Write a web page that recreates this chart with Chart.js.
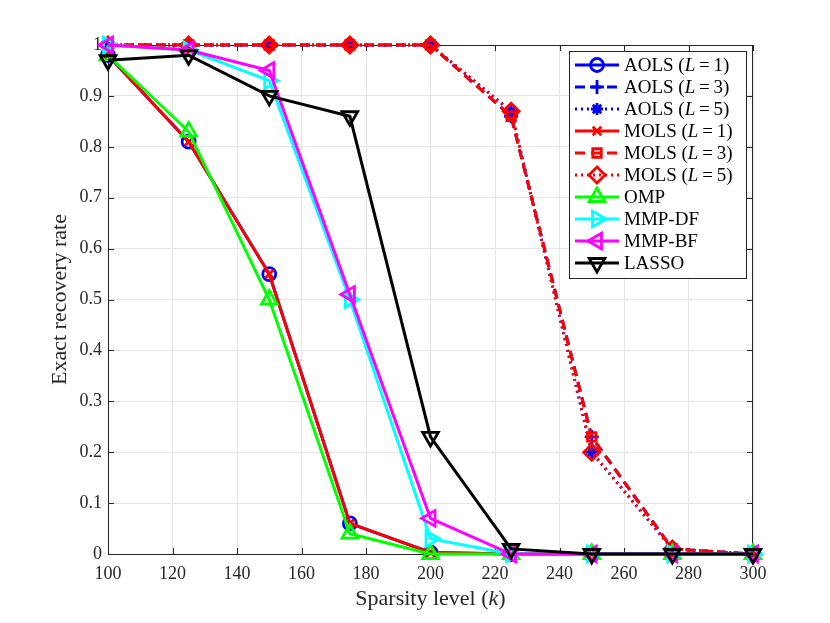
<!DOCTYPE html>
<html>
<head>
<meta charset="utf-8">
<script src="https://cdn.jsdelivr.net/npm/chart.js@4.4.1/dist/chart.umd.min.js"></script>
<style>
  body { margin: 0; background: #fff; }
</style>
</head>
<body>
<canvas id="chart" width="830" height="623"></canvas>
<script>
// sparsity levels on the x axis
var kValues = [100, 125, 150, 175, 200, 225, 250, 275, 300];

// exact recovery rate for each algorithm
var aols1 = [0.98, 0.81, 0.55, 0.06, 0.003, 0, 0, 0, 0];
var aols3 = [1, 1, 1, 1, 1, 0.86, 0.23, 0.01, 0];
var aols5 = [1, 1, 1, 1, 1, 0.87, 0.20, 0.01, 0];
var mols1 = [0.98, 0.81, 0.55, 0.06, 0.003, 0, 0, 0, 0];
var mols3 = [1, 1, 1, 1, 1, 0.86, 0.23, 0.01, 0];
var mols5 = [1, 1, 1, 1, 1, 0.87, 0.20, 0.01, 0];
var omp = [0.98, 0.83, 0.50, 0.04, 0, 0, 0, 0, 0];
var mmpDF = [1.0, 0.99, 0.93, 0.50, 0.03, 0, 0, 0, 0];
var mmpBF = [1.0, 0.99, 0.95, 0.51, 0.07, 0, 0, 0, 0];
var lasso = [0.97, 0.98, 0.90, 0.86, 0.23, 0.01, 0, 0, 0];

// tick labels
var xTicks = [100, 120, 140, 160, 180, 200, 220, 240, 260, 280, 300];
var yTicks = [0, 0.1, 0.2, 0.3, 0.4, 0.5, 0.6, 0.7, 0.8, 0.9, 1];

var SERIF = '"Liberation Serif", "DejaVu Serif", serif';
var AXIS_COLOR = '#262626';

var dashed = [10, 6];
var dotted = [2, 4];

var datasets = [];
function addSeries(name, param, values, color, marker, dash, radius, rotation) {
    datasets.push({
        label: name,
        param: param, // legend "(L = n)" part, drawn with italic L
        data: values.map(function (v, i) { return { x: kValues[i], y: v }; }),
        borderColor: color,
        backgroundColor: color,
        borderWidth: 3,
        borderDash: dash,
        pointStyle: marker,
        pointRadius: radius,
        pointRotation: rotation || 0,
        pointBorderWidth: 2.8,
        pointBorderColor: color,
        pointBackgroundColor: 'rgba(0,0,0,0)',
        pointHoverRadius: radius,
        tension: 0,
        fill: false,
        clip: false
    });
}

addSeries('AOLS', 1, aols1, '#0000ff', 'circle', [], 6.5);
addSeries('AOLS', 3, aols3, '#0000ff', 'cross', dashed, 7);
addSeries('AOLS', 5, aols5, '#0000ff', 'star', dotted, 6);
addSeries('MOLS', 1, mols1, '#ff0000', 'crossRot', [], 6);
addSeries('MOLS', 3, mols3, '#ff0000', 'rect', dashed, 6);
addSeries('MOLS', 5, mols5, '#ff0000', 'rectRot', dotted, 8);
addSeries('OMP', null, omp, '#00ff00', 'triangle', [], 9);
addSeries('MMP-DF', null, mmpDF, '#00ffff', 'triangle', [], 9, 90);
addSeries('MMP-BF', null, mmpBF, '#ff00ff', 'triangle', [], 9, -90);
addSeries('LASSO', null, lasso, '#000000', 'triangle', [], 9, 180);

// later series drawn on top, like matlab
datasets.forEach(function (d, i) { d.order = datasets.length - i; });

function marker(ctx, ds, x, y) {
    ctx.save();
    ctx.strokeStyle = ds.pointBorderColor;
    ctx.fillStyle = ds.pointBackgroundColor;
    ctx.lineWidth = ds.pointBorderWidth;
    ctx.setLineDash([]);
    Chart.helpers.drawPoint(ctx, {
        pointStyle: ds.pointStyle,
        rotation: ds.pointRotation,
        radius: ds.pointRadius,
        borderWidth: ds.pointBorderWidth
    }, x, y);
    ctx.restore();
}

// draw text pieces, each [string, italic]
function richText(ctx, parts, x, y, size) {
    var cx = x;
    parts.forEach(function (p) {
        ctx.font = (p[1] ? 'italic ' : '') + size + 'px ' + SERIF;
        ctx.fillText(p[0], cx, y);
        cx += ctx.measureText(p[0]).width;
    });
    return cx - x;
}
function richWidth(ctx, parts, size) {
    var w = 0;
    parts.forEach(function (p) {
        ctx.font = (p[1] ? 'italic ' : '') + size + 'px ' + SERIF;
        w += ctx.measureText(p[0]).width;
    });
    return w;
}

var matlabLook = {
    id: 'matlabLook',
    beforeDatasetsDraw: function (chart) {
        var ctx = chart.ctx;
        var a = chart.chartArea;
        var xs = chart.scales.x, ys = chart.scales.y;
        ctx.save();
        ctx.strokeStyle = AXIS_COLOR;
        ctx.lineWidth = 1;
        // box top and right
        ctx.beginPath();
        ctx.moveTo(a.left, a.top + 0.5);
        ctx.lineTo(a.right, a.top + 0.5);
        ctx.moveTo(a.right - 0.5, a.top);
        ctx.lineTo(a.right - 0.5, a.bottom);
        ctx.stroke();
        // inward ticks
        var t = 6;
        ctx.beginPath();
        xTicks.forEach(function (v) {
            var px = Math.round(xs.getPixelForValue(v)) + 0.5;
            ctx.moveTo(px, a.bottom); ctx.lineTo(px, a.bottom - t);
            ctx.moveTo(px, a.top); ctx.lineTo(px, a.top + t);
        });
        yTicks.forEach(function (v) {
            var py = Math.round(ys.getPixelForValue(v)) + 0.5;
            ctx.moveTo(a.left, py); ctx.lineTo(a.left + t, py);
            ctx.moveTo(a.right, py); ctx.lineTo(a.right - t, py);
        });
        ctx.stroke();
        ctx.restore();
    },
    afterDraw: function (chart) {
        var ctx = chart.ctx;
        var a = chart.chartArea;
        ctx.save();
        ctx.fillStyle = AXIS_COLOR;
        ctx.textBaseline = 'middle';

        // axis titles
        var xt = [['Sparsity level (', false], ['k', true], [')', false]];
        var w = richWidth(ctx, xt, 22);
        richText(ctx, xt, (a.left + a.right) / 2 - w / 2, 599, 22);

        ctx.save();
        ctx.translate(60, (a.top + a.bottom) / 2);
        ctx.rotate(-Math.PI / 2);
        ctx.font = '22px ' + SERIF;
        ctx.textAlign = 'center';
        ctx.fillText('Exact recovery rate', 0, 0);
        ctx.restore();

        // legend box in the upper right corner
        var bx = 569, by = 51, bw = 177, bh = 227;
        ctx.fillStyle = '#ffffff';
        ctx.fillRect(bx, by, bw, bh);
        ctx.strokeStyle = AXIS_COLOR;
        ctx.lineWidth = 1;
        ctx.strokeRect(bx + 0.5, by + 0.5, bw, bh);

        var rowH = 22;
        chart.data.datasets.forEach(function (ds, i) {
            var y = by + 14 + i * rowH;
            ctx.save();
            ctx.strokeStyle = ds.borderColor;
            ctx.lineWidth = ds.borderWidth;
            ctx.setLineDash(ds.borderDash);
            ctx.beginPath();
            ctx.moveTo(575, y);
            ctx.lineTo(619, y);
            ctx.stroke();
            ctx.restore();
            marker(ctx, ds, 597, y);

            ctx.fillStyle = '#000000';
            var parts = [[ds.label, false]];
            if (ds.param !== null) {
                parts = [[ds.label + ' (', false], ['L', true], ['\u2009=\u2009' + ds.param + ')', false]];
            }
            richText(ctx, parts, 624, y + 1, 19);
        });
        ctx.restore();
    }
};

new Chart(document.getElementById('chart'), {
    type: 'line',
    data: { datasets: datasets },
    options: {
        responsive: false,
        animation: false,
        devicePixelRatio: 1,
        layout: { padding: { top: 45, right: 77, bottom: 0, left: 0 } },
        plugins: {
            legend: { display: false },
            tooltip: { enabled: false }
        },
        scales: {
            x: {
                type: 'linear',
                min: 100,
                max: 300,
                afterFit: function (axis) { axis.height = 69; },
                afterBuildTicks: function (axis) {
                    axis.ticks = xTicks.map(function (v) { return { value: v }; });
                },
                ticks: {
                    color: AXIS_COLOR,
                    font: { family: SERIF, size: 18 },
                    padding: 9,
                    maxRotation: 0,
                    autoSkip: false
                },
                grid: { color: '#e6e6e6', drawTicks: false, tickLength: 0 },
                border: { display: true, color: AXIS_COLOR, width: 1 }
            },
            y: {
                type: 'linear',
                min: 0,
                max: 1,
                afterFit: function (axis) { axis.width = 108; },
                afterBuildTicks: function (axis) {
                    axis.ticks = yTicks.map(function (v) { return { value: v }; });
                },
                ticks: {
                    color: AXIS_COLOR,
                    font: { family: SERIF, size: 18 },
                    padding: 6,
                    autoSkip: false,
                    callback: function (v) {
                        if (v === 0 || v === 1) return String(v);
                        return v.toFixed(1);
                    }
                },
                grid: { color: '#e6e6e6', drawTicks: false, tickLength: 0 },
                border: { display: true, color: AXIS_COLOR, width: 1 }
            }
        }
    },
    plugins: [matlabLook]
});
</script>
</body>
</html>
